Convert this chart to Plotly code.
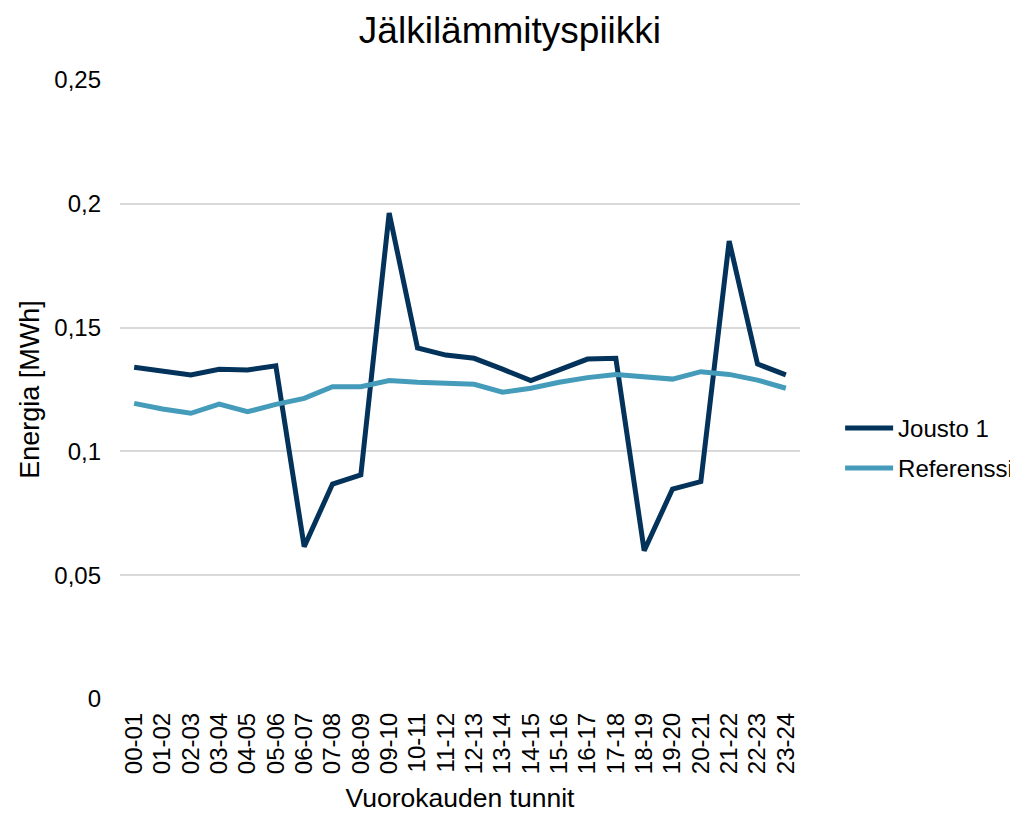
import plotly.graph_objects as go

hours = ["00-01","01-02","02-03","03-04","04-05","05-06","06-07","07-08","08-09","09-10",
         "10-11","11-12","12-13","13-14","14-15","15-16","16-17","17-18","18-19","19-20",
         "20-21","21-22","22-23","23-24"]

jousto1 = [0.1340,0.1326,0.1309,0.1332,0.1329,0.1346,0.0615,0.0868,0.0905,0.1963,
           0.1418,0.1389,0.1376,0.1332,0.1286,0.1329,0.1373,0.1376,0.0599,0.0848,
           0.0878,0.1850,0.1353,0.1309]

referenssi = [0.1194,0.1171,0.1154,0.1191,0.1160,0.1190,0.1214,0.1261,0.1261,0.1286,
              0.1279,0.1275,0.1271,0.1239,0.1255,0.1279,0.1298,0.1311,0.1299,0.1292,
              0.1322,0.1311,0.1288,0.1255]

y_ticks = [0, 0.05, 0.1, 0.15, 0.2, 0.25]
y_ticklabels = ["0", "0,05", "0,1", "0,15", "0,2", "0,25"]

FONT = "Liberation Sans, Arial, sans-serif"

fig = go.Figure()
fig.add_trace(go.Scatter(x=hours, y=jousto1, mode="lines", name="Jousto 1",
                         legendgroup="a",
                         line=dict(color="#03325A", width=5)))
fig.add_trace(go.Scatter(x=hours, y=referenssi, mode="lines", name="Referenssi",
                         legendgroup="b",
                         line=dict(color="#449BBA", width=5)))

fig.update_layout(
    width=1010, height=805,
    margin=dict(l=112, r=218, t=72, b=114, autoexpand=False),
    paper_bgcolor="white", plot_bgcolor="white",
    font=dict(family=FONT, color="#000000", size=24),
    title=dict(text="Jälkilämmityspiikki", x=0.497, xref="container", xanchor="center",
               y=1 - 22 / 805, yref="container", yanchor="middle",
               font=dict(size=37, family=FONT, color="#000")),
    showlegend=True,
    legend=dict(x=1.059, xanchor="left", y=0.405, yanchor="middle",
                font=dict(size=24, family=FONT), traceorder="grouped",
                tracegroupgap=6, itemwidth=48, bgcolor="rgba(0,0,0,0)"),
    xaxis=dict(type="category", range=[-0.5, 23.5], tickangle=-90,
               tickmode="array", tickvals=hours, ticktext=hours,
               showgrid=False, zeroline=False, showline=False, ticks="",
               ticklabelstandoff=8,
               tickfont=dict(size=24, family=FONT),
               title=dict(text="Vuorokauden tunnit", font=dict(size=26.5, family=FONT), standoff=17)),
    yaxis=dict(range=[0, 0.25], tickvals=y_ticks, ticktext=y_ticklabels,
               showgrid=True, gridcolor="#D9D9D9", gridwidth=1.5,
               zeroline=False, showline=False, ticks="", ticklabelstandoff=18,
               tickfont=dict(size=24, family=FONT),
               title=dict(text="Energia [MWh]", font=dict(size=27, family=FONT), standoff=6)),
)

fig.write_html("out.html")
